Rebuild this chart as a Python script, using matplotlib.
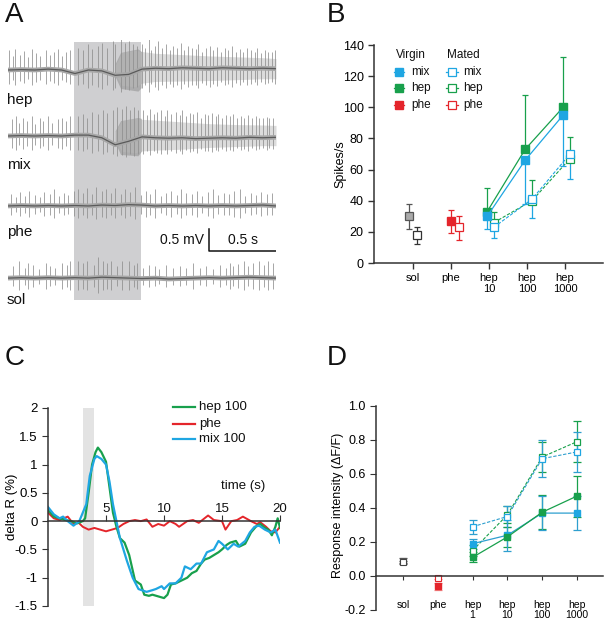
import matplotlib
matplotlib.use('Agg')
import matplotlib.pyplot as plt
from matplotlib.lines import Line2D
import numpy as np

plt.rcParams['font.family'] = ['Liberation Sans', 'DejaVu Sans']

# ---------------- data ----------------
# panel A: extracellular traces (time in s, voltage in mV)
stim_on, stim_off = 0.49, 0.995
trace_names = ['hep', 'mix', 'phe', 'sol']
trace_offsets = [0.0, -1.5, -3.09, -4.73]
base_t = [0, 0.1, 0.2, 0.3, 0.4, 0.5, 0.6, 0.7, 0.8, 0.9, 1.0,
          1.1, 1.2, 1.3, 1.4, 1.5, 1.6, 1.7, 1.8, 1.9, 2.0]
hep_base = [0, 0.01, 0, 0.02, 0, -0.08, 0, -0.02, -0.12, -0.1, 0.02,
            0.04, 0.03, 0.05, 0.04, 0.03, 0.05, 0.04, 0.03, 0.04, 0.03]
mix_base = [0, 0.01, 0, 0.01, 0, 0.02, 0.02, -0.04, -0.2, -0.12, -0.02,
            -0.04, -0.05, -0.04, -0.06, -0.05, -0.04, -0.05, -0.03, -0.04, -0.03]
phe_base = [0, 0.01, 0, 0.01, 0, 0.01, 0, 0.02, 0.01, 0.03, 0.02,
            0, 0.01, 0, 0.01, 0, 0.01, 0, 0.01, 0.02, 0]
sol_base = [0, 0.01, 0, 0.01, 0, 0.01, 0, 0.02, 0.01, 0.0, -0.01,
            0, -0.02, -0.01, 0, 0.01, 0, 0.01, 0.02, 0.01, 0]

hep_st = [0.01, 0.035, 0.05, 0.09, 0.12, 0.15, 0.18, 0.21, 0.24, 0.28, 0.31, 0.34, 0.37, 0.40, 0.43, 0.46,
          0.52, 0.56, 0.60, 0.63, 0.67, 0.70, 0.74, 0.78, 0.80, 0.84, 0.87, 0.90, 0.93, 0.96,
          1.00, 1.02, 1.05, 1.07, 1.10, 1.12, 1.15, 1.18, 1.21, 1.23, 1.26, 1.29, 1.31, 1.34, 1.37,
          1.40, 1.42, 1.45, 1.48, 1.51, 1.53, 1.56, 1.59, 1.62, 1.64, 1.67, 1.70, 1.73, 1.75, 1.78,
          1.81, 1.84, 1.86, 1.89, 1.92, 1.94, 1.97, 1.99]
hep_sa = [0.45, 0.32, 0.48, 0.35, 0.43, 0.3, 0.48, 0.38, 0.32, 0.46, 0.35, 0.42, 0.48, 0.32, 0.4, 0.45,
          0.5, 0.45, 0.58, 0.48, 0.55, 0.62, 0.5, 0.65, 0.58, 0.7, 0.62, 0.65, 0.6, 0.55,
          0.6, 0.5, 0.7, 0.45, 0.55, 0.65, 0.5, 0.6, 0.45, 0.55, 0.5, 0.62, 0.45, 0.55, 0.5,
          0.48, 0.6, 0.42, 0.5, 0.55, 0.45, 0.52, 0.4, 0.5, 0.45, 0.55, 0.42, 0.48, 0.4, 0.5,
          0.45, 0.4, 0.5, 0.38, 0.45, 0.42, 0.4, 0.45]
mix_st = [0.03, 0.06, 0.08, 0.11, 0.14, 0.18, 0.20, 0.24, 0.26, 0.30, 0.33, 0.37, 0.40, 0.43, 0.46,
          0.52, 0.56, 0.59, 0.63, 0.67, 0.71, 0.74, 0.78, 0.81, 0.85, 0.88, 0.91, 0.94, 0.97,
          1.01, 1.04, 1.06, 1.09, 1.11, 1.14, 1.17, 1.19, 1.22, 1.25, 1.28, 1.30, 1.33, 1.36, 1.38,
          1.41, 1.44, 1.47, 1.49, 1.52, 1.55, 1.57, 1.60, 1.63, 1.66, 1.68, 1.71, 1.74, 1.76, 1.79,
          1.82, 1.85, 1.87, 1.90, 1.93, 1.95, 1.98]
mix_sa = [0.38, 0.45, 0.3, 0.42, 0.33, 0.45, 0.28, 0.4, 0.33, 0.45, 0.3, 0.38, 0.42, 0.33, 0.45,
          0.45, 0.5, 0.42, 0.55, 0.5, 0.58, 0.52, 0.6, 0.65, 0.62, 0.68, 0.6, 0.65, 0.58,
          0.6, 0.48, 0.62, 0.5, 0.55, 0.6, 0.45, 0.58, 0.5, 0.55, 0.48, 0.6, 0.45, 0.52, 0.5,
          0.55, 0.42, 0.5, 0.48, 0.52, 0.45, 0.5, 0.42, 0.48, 0.45, 0.5, 0.4, 0.46, 0.42, 0.48,
          0.4, 0.45, 0.42, 0.4, 0.44, 0.4, 0.42]
phe_st = [0.02, 0.06, 0.09, 0.13, 0.16, 0.20, 0.24, 0.27, 0.31, 0.34, 0.38, 0.42, 0.45, 0.49, 0.52,
          0.56, 0.59, 0.63, 0.66, 0.70, 0.73, 0.77, 0.80, 0.84, 0.87, 0.91, 0.95, 0.99, 1.03, 1.06,
          1.10, 1.14, 1.18, 1.22, 1.26, 1.29, 1.33, 1.37, 1.41, 1.45, 1.49, 1.53, 1.57, 1.61, 1.65,
          1.69, 1.73, 1.77, 1.81, 1.85, 1.89, 1.93, 1.97]
phe_sa = [0.28, 0.2, 0.32, 0.22, 0.35, 0.25, 0.2, 0.32, 0.28, 0.38, 0.22, 0.3, 0.25, 0.34, 0.38,
          0.3, 0.4, 0.28, 0.42, 0.35, 0.38, 0.3, 0.4, 0.28, 0.38, 0.32, 0.42, 0.25, 0.35, 0.28,
          0.38, 0.22, 0.3, 0.35, 0.25, 0.38, 0.3, 0.28, 0.35, 0.22, 0.32, 0.38, 0.25, 0.3, 0.28,
          0.35, 0.38, 0.22, 0.3, 0.25, 0.32, 0.28, 0.3]
sol_st = [0.04, 0.08, 0.13, 0.15, 0.19, 0.23, 0.28, 0.31, 0.35, 0.40, 0.44, 0.46,
          0.52, 0.56, 0.59, 0.64, 0.67, 0.71, 0.74, 0.77, 0.81, 0.85, 0.90, 0.94, 0.96,
          1.01, 1.05, 1.10, 1.13, 1.18, 1.23, 1.28, 1.33, 1.38, 1.43, 1.48, 1.53, 1.58, 1.63, 1.66,
          1.68, 1.72, 1.76, 1.79, 1.83, 1.87, 1.91, 1.94, 1.98]
sol_sa = [0.27, 0.38, 0.24, 0.34, 0.3, 0.2, 0.35, 0.27, 0.24, 0.34, 0.3, 0.4,
          0.38, 0.34, 0.4, 0.3, 0.47, 0.38, 0.34, 0.4, 0.27, 0.38, 0.4, 0.3, 0.35,
          0.24, 0.3, 0.27, 0.2, 0.3, 0.24, 0.27, 0.22, 0.34, 0.24, 0.27, 0.2, 0.3, 0.24, 0.35,
          0.27, 0.32, 0.38, 0.27, 0.34, 0.38, 0.3, 0.4, 0.34]

# dense firing after stimulus (hep, mix)
env_t = [0.8, 0.85, 0.95, 1.0, 1.1, 1.3, 1.5, 1.7, 1.9, 2.0]
hep_env_hi = [0.1, 0.4, 0.45, 0.42, 0.38, 0.35, 0.32, 0.3, 0.28, 0.26]
hep_env_lo = [-0.1, -0.35, -0.38, -0.3, -0.26, -0.25, -0.24, -0.22, -0.2, -0.2]
mix_env_hi = [0.1, 0.35, 0.4, 0.38, 0.36, 0.32, 0.28, 0.26, 0.25, 0.24]
mix_env_lo = [-0.1, -0.35, -0.38, -0.34, -0.32, -0.3, -0.26, -0.24, -0.22, -0.22]
burst_t = [0.8, 0.84, 0.97, 0.995]
hep_burst_hi = [0.15, 0.4, 0.48, 0.42]
hep_burst_lo = [-0.15, -0.42, -0.48, -0.4]
mix_burst_hi = [0.12, 0.35, 0.42, 0.4]
mix_burst_lo = [-0.15, -0.42, -0.45, -0.35]

# panel B: spikes/s
b_cats = ['sol', 'phe', 'hep\n10', 'hep\n100', 'hep\n1000']
b_sol_v, b_sol_lo, b_sol_hi = [30, 18], [22, 12], [38, 23]
b_phe_v, b_phe_lo, b_phe_hi = [27, 23], [19, 15], [34, 30]
b_hep_x = [2, 3, 4]
b_hep_vir, b_hep_vir_hi = [33, 73, 100], [48, 108, 132]
b_mix_vir, b_mix_vir_lo = [30, 66, 95], [22, 38, 62]
b_hep_mat, b_hep_mat_hi = [26, 40, 67], [33, 53, 81]
b_mix_mat, b_mix_mat_lo = [23, 41, 70], [16, 29, 54]

# panel C: delta R (%)
green_t = [0, 0.5, 1, 1.5, 2, 2.5, 3, 3.2, 3.5, 3.8, 4.1, 4.3, 4.6, 5, 5.3, 5.6, 5.9, 6.2, 6.6, 7.0,
           7.5, 8.0, 8.3, 8.7, 9.0, 9.5, 10, 10.3, 10.6, 11, 11.5, 12, 12.4, 12.8, 13.2, 13.5, 13.9,
           14.3, 14.7, 15, 15.4, 15.7, 16.2, 16.5, 17, 17.5, 18, 18.3, 18.7, 19, 19.3, 19.6, 19.8, 20]
green_v = [0.2, 0.08, 0.05, 0.02, 0.0, -0.04, 0.0, 0.05, 0.5, 1.0, 1.22, 1.3, 1.22, 1.05, 0.6, 0.15,
           -0.1, -0.3, -0.38, -0.6, -1.05, -1.12, -1.3, -1.32, -1.3, -1.33, -1.36, -1.3, -1.12, -1.1,
           -1.05, -1.0, -0.92, -0.88, -0.75, -0.68, -0.65, -0.6, -0.55, -0.5, -0.42, -0.38, -0.35,
           -0.45, -0.4, -0.2, -0.08, -0.05, -0.12, -0.15, -0.25, -0.1, 0.05, -0.12]
red_t = [0, 0.5, 1, 1.7, 2.2, 2.6, 3, 3.5, 4, 4.5, 5, 5.5, 6, 6.5, 7, 7.5, 8, 8.5, 9, 9.5, 10, 10.5,
         11, 11.3, 12, 12.5, 13, 13.8, 14.3, 15, 15.3, 15.8, 16.3, 16.8, 17.5, 18, 18.3, 18.8, 19.2,
         19.6, 20]
red_v = [0.15, 0.05, 0.02, 0.08, -0.05, -0.02, -0.1, -0.15, -0.12, -0.15, -0.18, -0.15, -0.12,
         -0.05, 0.0, 0.02, 0.0, 0.03, -0.1, -0.05, -0.08, 0.0, -0.05, -0.1, 0.0, 0.02, -0.03, 0.1,
         0.02, 0.0, -0.15, 0.0, 0.02, 0.08, 0.0, -0.05, -0.02, -0.1, -0.18, -0.2, -0.1]
blue_t = [0, 0.5, 1, 1.3, 1.7, 2.2, 2.7, 3.0, 3.3, 3.6, 4.0, 4.2, 4.6, 5.0, 5.3, 5.6, 5.9, 6.2, 6.8,
          7.3, 7.8, 8.5, 9.0, 9.3, 9.8, 10.0, 10.5, 11.0, 11.5, 11.8, 12.3, 12.8, 13.2, 13.7, 14.3,
          14.7, 15.0, 15.5, 16.0, 16.4, 17.0, 17.4, 17.8, 18.2, 18.7, 19.2, 19.6, 20]
blue_v = [0.25, 0.12, 0.05, 0.08, 0.0, -0.08, 0.0, 0.15, 0.3, 0.8, 1.1, 1.15, 1.1, 1.0, 0.7, 0.3,
          0.0, -0.3, -0.7, -1.0, -1.2, -1.25, -1.22, -1.2, -1.15, -1.2, -1.1, -1.1, -1.0, -0.8,
          -0.85, -0.75, -0.75, -0.55, -0.5, -0.35, -0.4, -0.5, -0.4, -0.45, -0.35, -0.2, -0.1,
          -0.08, -0.15, -0.2, -0.15, -0.38]
c_stim = (3.0, 4.0)
c_yticks = [-1.5, -1, -0.5, 0, 0.5, 1, 1.5, 2]
c_yticklabels = ['-1.5', '-1', '-0.5', '0', '0.5', '1', '1.5', '2']
c_xticks = [5, 10, 15, 20]

# panel D: response intensity
d_cats = ['sol', 'phe', 'hep\n1', 'hep\n10', 'hep\n100', 'hep\n1000']
d_sol_v, d_sol_e = [0.09, 0.08], [0.015, 0.01]
d_phe_v, d_phe_e = [-0.06, -0.01], [0.02, 0.01]
d_hep_x = [2, 3, 4, 5]
d_mix_vir, d_mix_vir_e = [0.19, 0.24, 0.37, 0.37], [0.03, 0.09, 0.1, 0.1]
d_hep_vir, d_hep_vir_e = [0.11, 0.23, 0.375, 0.47], [0.03, 0.06, 0.1, 0.12]
d_mix_mat, d_mix_mat_e = [0.29, 0.35, 0.69, 0.73], [0.04, 0.06, 0.11, 0.12]
d_hep_mat, d_hep_mat_e = [0.15, 0.36, 0.70, 0.79], [0.03, 0.05, 0.09, 0.12]

GREEN = '#18a04c'
BLUE = '#1fa6e2'
RED = '#e4252b'
TEAL = '#2e9fcf'
AX = '#333333'

# ---------------- figure ----------------
W, H = 607, 624
fig = plt.figure(figsize=(W / 100, H / 100), dpi=100)


def box(l, t, r, b):
    return fig.add_axes([l / W, 1 - b / H, (r - l) / W, (b - t) / H])


def fx(x):
    return x / W


def fy(y):
    return 1 - y / H


for lab, (x, y) in zip('ABCD', [(5, 15), (327, 15), (5, 358), (327, 358)]):
    fig.text(fx(x), fy(y), lab, fontsize=20, va='center', ha='left', color='#111')

# ---- A ----
axA = box(8, 40, 276, 310)
axA.set_xlim(0, 2.0)
axA.set_ylim(-5.455, 0.682)
axA.axis('off')
axA.fill_between([stim_on, stim_off], -5.227, 0.636, color='#cfcfd1', lw=0, zorder=0)

bases = [hep_base, mix_base, phe_base, sol_base]
spikes = [(hep_st, hep_sa), (mix_st, mix_sa), (phe_st, phe_sa), (sol_st, sol_sa)]
envs = {0: (hep_env_hi, hep_env_lo, hep_burst_hi, hep_burst_lo),
        1: (mix_env_hi, mix_env_lo, mix_burst_hi, mix_burst_lo)}
label_dy = [-0.68, -0.66, -0.59, -0.5]
for i, name in enumerate(trace_names):
    off = trace_offsets[i]
    if i in envs:
        hi, lo, bhi, blo = envs[i]
        axA.fill_between(env_t, np.array(lo) + off, np.array(hi) + off,
                         color='#dcdcdc', lw=0, zorder=1)
        axA.fill_between(burst_t, np.array(blo) + off, np.array(bhi) + off,
                         color='#8a8a8a', alpha=0.5, lw=0, zorder=1)
    st, sa = spikes[i]
    sa = np.array(sa)
    axA.vlines(st, off - 0.7 * sa, off + sa, color='#8e8e8e', lw=0.55, zorder=2)
    bv = np.array(bases[i]) + off
    axA.plot(base_t, bv, color='#a8a8a8', lw=3.4, zorder=3, solid_capstyle='butt')
    axA.plot(base_t, bv, color='#5a5a5a', lw=0.9, zorder=4)
    axA.text(-0.01, off + label_dy[i], name, fontsize=11, va='center', ha='left', color='#111')

# scale bar
axA.plot([1.5, 1.5, 2.0], [-3.61, -4.11, -4.11], color='#111', lw=1.1)
axA.text(1.465, -3.86, '0.5 mV', fontsize=10, ha='right', va='center', color='#111')
axA.text(1.75, -3.86, '0.5 s', fontsize=10, ha='center', va='center', color='#111')

# ---- B ----
axB = box(374, 45, 603, 263)
axB.set_xlim(-1.03, 5.0)
axB.set_ylim(0, 140)
for s in ['top', 'right']:
    axB.spines[s].set_visible(False)
for s in ['left', 'bottom']:
    axB.spines[s].set_color(AX)
    axB.spines[s].set_linewidth(1.1)
axB.set_yticks(np.arange(0, 141, 20))
axB.set_xticks(range(len(b_cats)))
axB.set_xticklabels(b_cats, fontsize=8, linespacing=1.1)
axB.tick_params(axis='y', labelsize=9, length=4, color=AX, width=1)
axB.tick_params(axis='x', length=4, color=AX, width=1, pad=3)
axB.set_ylabel('Spikes/s', fontsize=9)
axB.yaxis.set_label_coords(-0.122, 0.454)

ms = 5.5
ekw = dict(fmt='none', elinewidth=0.9, capsize=2.5, capthick=0.9)
# sol / phe
axB.errorbar([-0.1], [b_sol_v[0]], yerr=[[b_sol_v[0] - b_sol_lo[0]], [b_sol_hi[0] - b_sol_v[0]]], ecolor='#555', **ekw)
axB.errorbar([0.1], [b_sol_v[1]], yerr=[[b_sol_v[1] - b_sol_lo[1]], [b_sol_hi[1] - b_sol_v[1]]], ecolor='#333', **ekw)
axB.plot([-0.1], [b_sol_v[0]], 's', ms=ms, mfc='#aaaaaa', mec='#555', mew=0.9)
axB.plot([0.1], [b_sol_v[1]], 's', ms=ms, mfc='white', mec='#333', mew=0.9)
axB.errorbar([1.0], [b_phe_v[0]], yerr=[[b_phe_v[0] - b_phe_lo[0]], [b_phe_hi[0] - b_phe_v[0]]], ecolor=RED, **ekw)
axB.errorbar([1.2], [b_phe_v[1]], yerr=[[b_phe_v[1] - b_phe_lo[1]], [b_phe_hi[1] - b_phe_v[1]]], ecolor=RED, **ekw)
axB.plot([1.0], [b_phe_v[0]], 's', ms=ms, color=RED)
axB.plot([1.2], [b_phe_v[1]], 's', ms=ms, mfc='white', mec=RED, mew=0.9)

xv = np.array(b_hep_x) - 0.05
xm = np.array(b_hep_x) + 0.13
zeros = [0, 0, 0]
axB.errorbar(xm, b_hep_mat, yerr=[zeros, np.array(b_hep_mat_hi) - b_hep_mat], ecolor=GREEN, **ekw)
axB.errorbar(xm, b_mix_mat, yerr=[np.array(b_mix_mat) - b_mix_mat_lo, zeros], ecolor=BLUE, **ekw)
axB.plot(xm, b_hep_mat, 's--', ms=ms, color=GREEN, mfc='white', mew=0.9, lw=0.8, dashes=(3, 1.5))
axB.plot(xm, b_mix_mat, 's--', ms=ms, color=BLUE, mfc='white', mew=0.9, lw=0.8, dashes=(3, 1.5))
axB.errorbar(xv, b_hep_vir, yerr=[zeros, np.array(b_hep_vir_hi) - b_hep_vir], ecolor=GREEN, **ekw)
axB.errorbar(xv, b_mix_vir, yerr=[np.array(b_mix_vir) - b_mix_vir_lo, zeros], ecolor=BLUE, **ekw)
axB.plot(xv, b_hep_vir, 's-', ms=ms, color=GREEN, lw=0.9)
axB.plot(xv, b_mix_vir, 's-', ms=ms, color=BLUE, lw=0.9)

# legend B
fig.text(fx(396), fy(55), 'Virgin', fontsize=8.5, va='center', color='#111')
fig.text(fx(447), fy(55), 'Mated', fontsize=8.5, va='center', color='#111')
for row_y, name, col in [(72, 'mix', BLUE), (88, 'hep', GREEN), (105, 'phe', RED)]:
    fig.add_artist(Line2D([fx(394), fx(404)], [fy(row_y)] * 2, color=col, lw=0.9,
                          transform=fig.transFigure))
    fig.add_artist(Line2D([fx(399)], [fy(row_y)], color=col, marker='s', ms=ms, lw=0,
                          transform=fig.transFigure))
    fig.text(fx(411), fy(row_y), name, fontsize=8.5, va='center', color='#111')
    fig.add_artist(Line2D([fx(446), fx(458)], [fy(row_y)] * 2, color=col, lw=0.9,
                          transform=fig.transFigure))
    fig.add_artist(Line2D([fx(452)], [fy(row_y)], color=col, marker='s', ms=ms, lw=0,
                          mfc='white', mew=0.9, transform=fig.transFigure))
    fig.text(fx(463), fy(row_y), name, fontsize=8.5, va='center', color='#111')

# ---- C ----
axC = box(48, 408, 280, 606)
axC.set_xlim(0, 20)
axC.set_ylim(-1.5, 2)
for s in ['top', 'right']:
    axC.spines[s].set_visible(False)
axC.spines['bottom'].set_position(('data', 0))
for s in ['left', 'bottom']:
    axC.spines[s].set_color(AX)
    axC.spines[s].set_linewidth(1.1)
axC.axvspan(*c_stim, color='#e3e3e3', lw=0, zorder=0)
axC.set_yticks(c_yticks)
axC.set_yticklabels(c_yticklabels)
axC.tick_params(axis='y', labelsize=9.5, length=4, color=AX)
axC.set_xticks(c_xticks)
axC.set_xticklabels([])
axC.tick_params(axis='x', direction='in', length=4, color=AX)
for t in c_xticks:
    axC.text(t, 0.1, str(t), fontsize=9.5, ha='center', va='bottom', color='#111')
axC.text(16.8, 0.62, 'time (s)', fontsize=9.5, ha='center', va='center', color='#111')
axC.set_ylabel('delta R (%)', fontsize=9.5)
axC.yaxis.set_label_coords(-0.129, 0.5)
axC.plot(red_t, red_v, color=RED, lw=1.4)
axC.plot(green_t, green_v, color=GREEN, lw=1.6)
axC.plot(blue_t, blue_v, color=BLUE, lw=1.6)
for row_y, name, col in [(407, 'hep 100', GREEN), (424, 'phe', RED), (439, 'mix 100', BLUE)]:
    fig.add_artist(Line2D([fx(173), fx(195)], [fy(row_y)] * 2, color=col, lw=1.6,
                          transform=fig.transFigure))
    fig.text(fx(199), fy(row_y), name, fontsize=9.5, va='center', color='#111')

# ---- D ----
axD = box(376, 406, 603, 610)
axD.set_xlim(-0.78, 5.75)
axD.set_ylim(-0.2, 1.0)
for s in ['top', 'right']:
    axD.spines[s].set_visible(False)
axD.spines['bottom'].set_position(('data', 0))
for s in ['left', 'bottom']:
    axD.spines[s].set_color(AX)
    axD.spines[s].set_linewidth(1.1)
axD.set_yticks(np.arange(-0.2, 1.01, 0.2))
axD.set_yticklabels(['%.1f' % v for v in np.arange(-0.2, 1.01, 0.2)])
axD.tick_params(axis='y', labelsize=9, length=4, color=AX)
axD.set_xticks(range(len(d_cats)))
axD.set_xticklabels(d_cats, fontsize=7.5, linespacing=1.1)
axD.tick_params(axis='x', length=3, color=AX, pad=14)
axD.set_ylabel('Response intensity (\u0394F/F)', fontsize=9)
axD.yaxis.set_label_coords(-0.141, 0.515)

ms2 = 4.8
ekw2 = dict(fmt='none', elinewidth=0.9, capsize=3, capthick=0.9)
axD.errorbar([0, 0], d_sol_v, yerr=d_sol_e, ecolor='#555', **ekw2)
axD.plot([0], [d_sol_v[0]], 's', ms=ms2, mfc='#888888', mec='#555', mew=0.8)
axD.plot([0], [d_sol_v[1]], 's', ms=ms2 * 0.8, mfc='white', mec='#444', mew=0.8)
axD.errorbar([1, 1], d_phe_v, yerr=d_phe_e, ecolor='#f08080', **ekw2)
axD.plot([1], [d_phe_v[0]], 's', ms=ms2, color=RED)
axD.plot([1], [d_phe_v[1]], 's', ms=ms2, mfc='white', mec=RED, mew=0.8)

axD.errorbar(d_hep_x, d_hep_mat, yerr=d_hep_mat_e, ecolor=GREEN, **ekw2)
axD.errorbar(d_hep_x, d_mix_mat, yerr=d_mix_mat_e, ecolor=TEAL, **ekw2)
axD.errorbar(d_hep_x, d_hep_vir, yerr=d_hep_vir_e, ecolor=GREEN, **ekw2)
axD.errorbar(d_hep_x, d_mix_vir, yerr=d_mix_vir_e, ecolor=TEAL, **ekw2)
axD.plot(d_hep_x, d_hep_mat, 's--', ms=ms2, color=GREEN, mfc='white', mew=0.9, lw=0.8, dashes=(3, 1.5))
axD.plot(d_hep_x, d_mix_mat, 's--', ms=ms2, color=TEAL, mec=BLUE, mfc='white', mew=0.9, lw=0.8, dashes=(3, 1.5))
axD.plot(d_hep_x, d_mix_vir, 's-', ms=ms2, color=TEAL, mfc=BLUE, mec=BLUE, lw=0.9)
axD.plot(d_hep_x, d_hep_vir, 's-', ms=ms2, color=GREEN, lw=0.9)

fig.savefig('out.png', dpi=100)
